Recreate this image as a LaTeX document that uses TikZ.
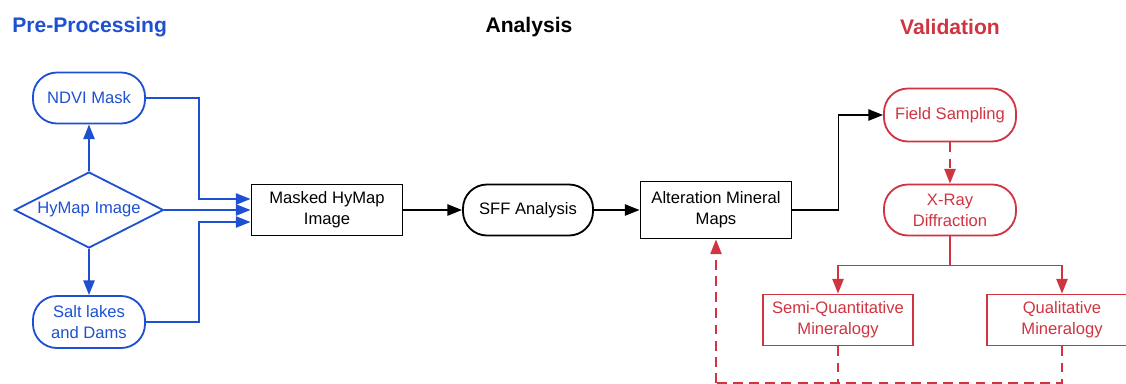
\documentclass[tikz,border=0pt]{standalone}
\usepackage{fontspec}
\setmainfont{Liberation Sans}
\usetikzlibrary{shapes.geometric,arrows.meta,calc}
\definecolor{prepblue}{HTML}{1E50D2}
\definecolor{validred}{HTML}{D03440}

\begin{document}
\begin{tikzpicture}[x=0.025cm,y=-0.025cm,
    box/.style={draw,line width=1.3pt,align=center,inner sep=1pt,font=\fontsize{11.8}{15}\selectfont},
    pill/.style={box,rounded corners=0.6cm},
    heading/.style={font=\fontsize{15}{18}\selectfont\bfseries},
    link/.style={line width=1.3pt,-{Triangle[length=10.5pt,width=8pt]}},
    plain/.style={line width=1.3pt},
    dashlink/.style={line width=1.3pt,dash pattern=on 7pt off 4.5pt}]
    \useasboundingbox (0,0) rectangle (1126,383);
    % column headings
    \node[heading,text=prepblue,anchor=west,inner sep=0] (preTitle) at (12,27) {Pre-Processing};
    \node[heading,inner sep=0] (anaTitle) at (529,27) {Analysis};
    \node[heading,text=validred,inner sep=0] (valTitle) at (950,27) {Validation};
    % pre-processing
    \node[pill,prepblue,text=prepblue,minimum width=2.8cm,minimum height=1.275cm] (ndvi) at (89,98) {NDVI Mask};
    \node[box,prepblue,text=prepblue,diamond,aspect=2,inner sep=0,minimum width=3.725cm,minimum height=1.9cm] (hymap) at (89,210) {HyMap Image};
    \node[pill,prepblue,text=prepblue,minimum width=2.8cm,minimum height=1.3cm] (salt) at (89,322) {Salt lakes\\and Dams};
    % analysis
    \node[box,minimum width=3.775cm,minimum height=1.275cm] (masked) at (327,210) {Masked HyMap\\Image};
    \node[pill,minimum width=3.25cm,minimum height=1.275cm] (sff) at (528,210) {SFF Analysis};
    \node[box,minimum width=3.775cm,minimum height=1.425cm] (alt) at (716,210) {Alteration Mineral\\Maps};
    % validation
    \node[pill,validred,text=validred,minimum width=3.3cm,minimum height=1.325cm] (field) at (950,115) {Field Sampling};
    \node[pill,validred,text=validred,minimum width=3.3cm,minimum height=1.275cm] (xray) at (950,210) {X-Ray\\Diffraction};
    \node[box,validred,text=validred,minimum width=3.75cm,minimum height=1.275cm] (semi) at (838,320) {Semi-Quantitative\\Mineralogy};
    \node[box,validred,text=validred,minimum width=3.75cm,minimum height=1.275cm] (qual) at (1062,320) {Qualitative\\Mineralogy};
    \coordinate (mInA) at ($(masked.west)+(0,-11)$);
    \coordinate (mInB) at ($(masked.west)+(0,12)$);
    \coordinate (bend) at (199,0);
    \coordinate (base) at (716,383);
    \draw[link,prepblue] (hymap.north) -- (ndvi.south);
    \draw[link,prepblue] (hymap.south) -- (salt.north);
    \draw[link,prepblue] (ndvi.east) -| (bend |- mInA) -- (mInA);
    \draw[link,prepblue] (hymap.east) -- (masked.west);
    \draw[link,prepblue] (salt.east) -| (bend |- mInB) -- (mInB);
    \draw[link] (masked.east) -- (sff.west);
    \draw[link] (sff.east) -- (alt.west);
    \draw[link] (alt.east) -- ++(46,0) |- (field.west);
    \draw[link,dashlink,validred] (field.south) -- (xray.north);
    \draw[plain,validred] (xray.south) -- ++(0,29) coordinate (split);
    \draw[link,validred] (split) -| (semi.north);
    \draw[link,validred] (split) -| (qual.north);
    \draw[dashlink,validred] (semi.south) -- (semi.south |- base);
    \draw[dashlink,validred] (qual.south) -- (qual.south |- base) -- (base);
    \draw[link,dashlink,validred] (base) -- (alt.south);
\end{tikzpicture}
\end{document}
